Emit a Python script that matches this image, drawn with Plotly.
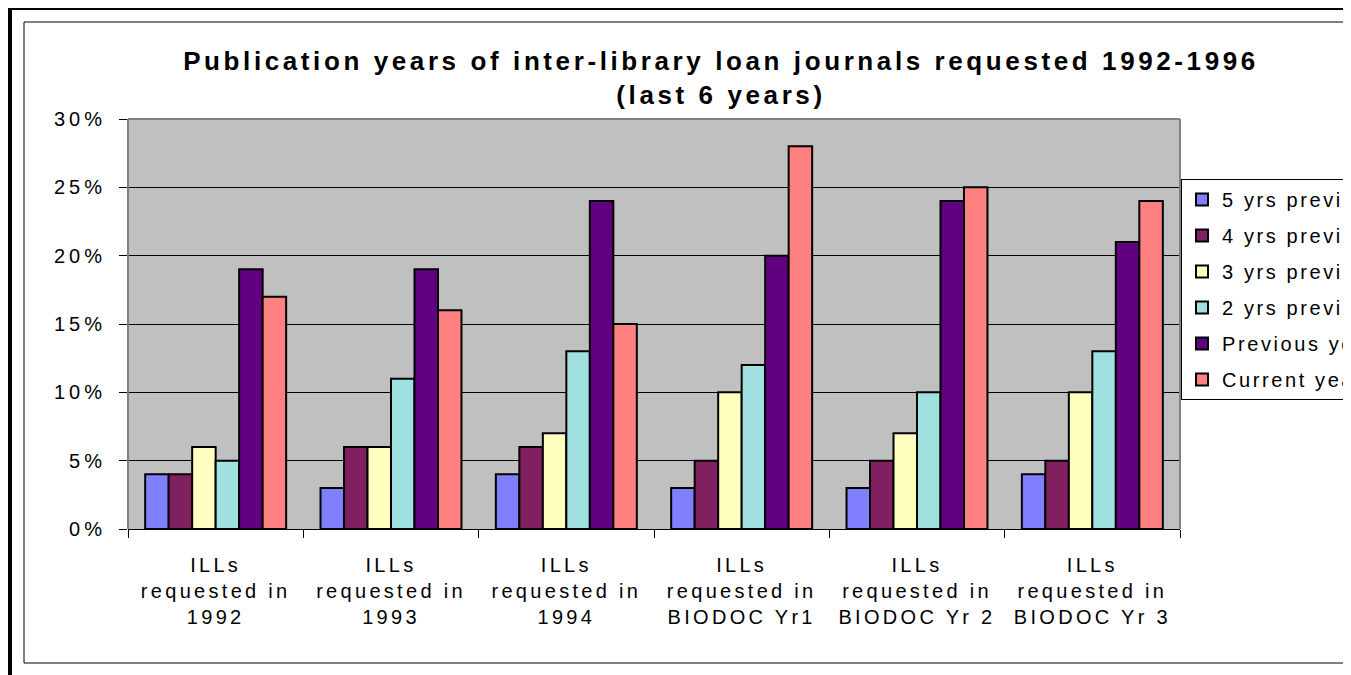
import plotly.graph_objects as go

# ---- data ----
categories = [
    "ILLs<br>requested in<br>1992",
    "ILLs<br>requested in<br>1993",
    "ILLs<br>requested in<br>1994",
    "ILLs<br>requested in<br>BIODOC Yr1",
    "ILLs<br>requested in<br>BIODOC Yr 2",
    "ILLs<br>requested in<br>BIODOC Yr 3",
]
series_names = ["5 yrs previous", "4 yrs previous", "3 yrs previous",
                "2 yrs previous", "Previous year", "Current year"]
yrs5_previous = [4, 3, 4, 3, 3, 4]
yrs4_previous = [4, 6, 6, 5, 5, 5]
yrs3_previous = [6, 6, 7, 10, 7, 10]
yrs2_previous = [5, 11, 13, 12, 10, 13]
previous_year = [19, 19, 24, 20, 24, 21]
current_year = [17, 16, 15, 28, 25, 24]
series_values = [yrs5_previous, yrs4_previous, yrs3_previous,
                 yrs2_previous, previous_year, current_year]
y_tick_values = [0, 5, 10, 15, 20, 25, 30]
y_tick_labels = ["0%", "5%", "10%", "15%", "20%", "25%", "30%"]
title_lines = ["Publication years of inter-library loan journals requested 1992-1996",
               "(last 6 years)"]

# ---- styles ----
colors = ["#8080FF", "#802060", "#FFFFC0", "#A0E0E0", "#600080", "#FF8080"]
FONT = "Liberation Sans, Arial, sans-serif"
OFF = 8  # page body margin
W, H = 1351 - OFF, 675 - OFF
PL, PR, PT, PB = 128 - OFF, 1180 - OFF, 119 - OFF, 529 - OFF


def spaced(text, s=3.3):
    return "<br>".join(
        f"<span style='letter-spacing:{s}px'>{line}</span>" for line in text.split("<br>")
    )


def px(p):
    """screen x (reference pixels) -> paper x"""
    return (p - OFF - PL) / (PR - PL)


def py(q):
    """screen y (reference pixels) -> paper y"""
    return (PB - (q - OFF)) / (PB - PT)


fig = go.Figure()
for i, (name, vals) in enumerate(zip(series_names, series_values)):
    fig.add_trace(go.Bar(
        x=categories, y=vals, name=spaced(name, 2.6),
        legendgroup=f"g{i}",
        marker=dict(color=colors[i], line=dict(color="black", width=2)),
    ))

shapes = [
    # plot-area grey border (top, left, right)
    dict(type="line", xref="paper", yref="paper", x0=0, x1=1, y0=1, y1=1,
         line=dict(color="#808080", width=2), layer="above"),
    dict(type="line", xref="paper", yref="paper", x0=0, x1=0, y0=0, y1=1,
         line=dict(color="#808080", width=2), layer="above"),
    dict(type="line", xref="paper", yref="paper", x0=1, x1=1, y0=0, y1=1,
         line=dict(color="#808080", width=2), layer="above"),
    # inner chart frame
    dict(type="rect", xref="paper", yref="paper", x0=px(24), x1=px(1420),
         y0=py(663), y1=py(22), line=dict(color="black", width=1), layer="above"),
    # thick outer frame (left and top)
    dict(type="line", xref="paper", yref="paper", x0=px(10), x1=px(10),
         y0=py(6), y1=py(720), line=dict(color="black", width=4), layer="above"),
    dict(type="line", xref="paper", yref="paper", x0=px(8), x1=px(1420),
         y0=py(8), y1=py(8), line=dict(color="black", width=4), layer="above"),
]

fig.update_layout(
    width=W, height=H,
    margin=dict(l=PL, r=W - PR, t=PT, b=H - PB, autoexpand=False),
    paper_bgcolor="white", plot_bgcolor="#C0C0C0",
    font=dict(family=FONT, size=20, color="black"),
    title=dict(
        text="<br>".join(f"<b><span style='letter-spacing:3.6px'>{t}</span></b>" for t in title_lines),
        font=dict(family=FONT, size=26, color="black"),
        x=(721 - OFF) / W, xanchor="center", xref="container",
        y=1 - (70 - OFF) / H, yanchor="top", yref="container",
    ),
    barmode="group", bargap=0.196, bargroupgap=0,
    showlegend=True,
    legend=dict(
        x=px(1181), y=py(179), xanchor="left", yanchor="top",
        bgcolor="white", bordercolor="black", borderwidth=1,
        font=dict(family=FONT, size=20, color="black"),
        traceorder="grouped", tracegroupgap=7,
    ),
    shapes=shapes,
)

fig.update_xaxes(
    tickvals=categories, ticktext=[spaced(c) for c in categories],
    showline=True, linecolor="black", linewidth=1,
    ticks="outside", tickson="boundaries", ticklen=8, tickcolor="black",
    showgrid=False, ticklabelstandoff=18,
)
fig.update_yaxes(
    range=[0, 30], tickvals=y_tick_values, ticktext=[spaced(t, 4) for t in y_tick_labels],
    showline=False, zeroline=False,
    ticks="outside", ticklen=8, tickcolor="black",
    showgrid=True, gridcolor="black", gridwidth=1,
    ticklabelstandoff=9,
)

fig.write_html("out.html")
